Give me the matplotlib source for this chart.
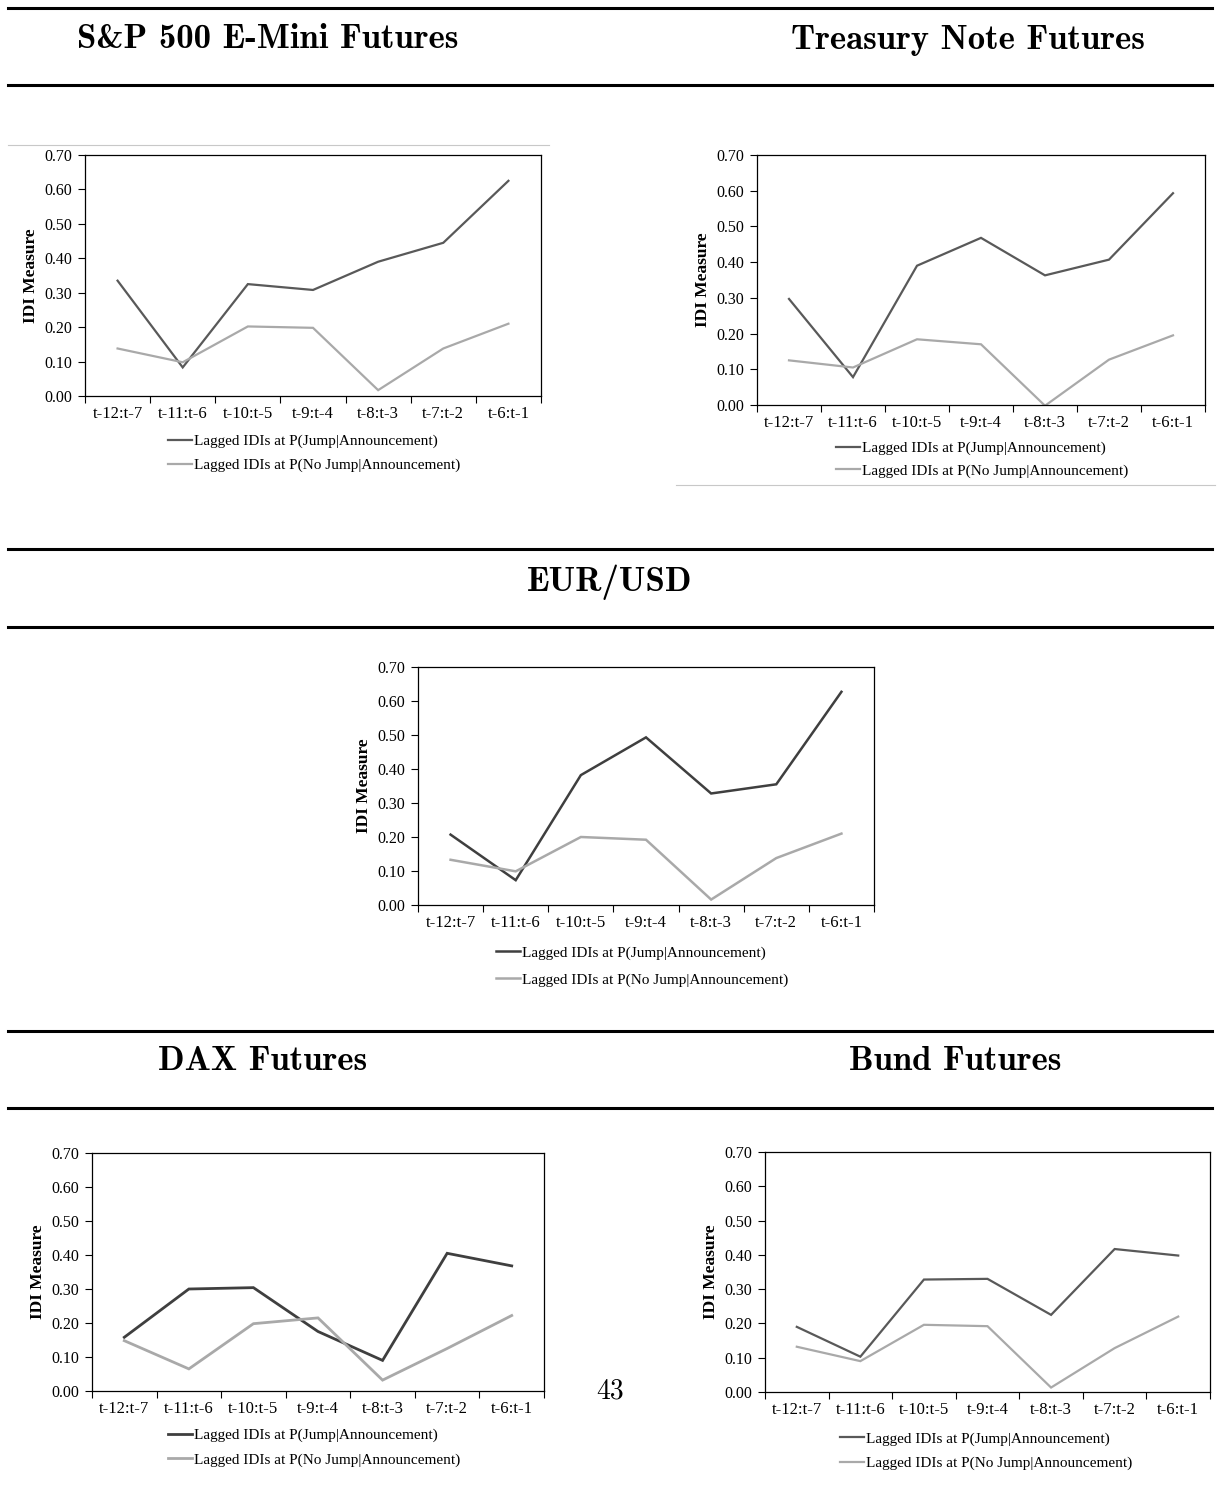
import matplotlib
matplotlib.use('AGG')
import matplotlib.pyplot as plt
from matplotlib.lines import Line2D

W, H = 1224, 1508

periods = ['t-12:t-7', 't-11:t-6', 't-10:t-5', 't-9:t-4', 't-8:t-3', 't-7:t-2', 't-6:t-1']

sp_jump = [0.335, 0.083, 0.325, 0.308, 0.390, 0.445, 0.625]
sp_nojump = [0.138, 0.098, 0.202, 0.198, 0.017, 0.138, 0.210]

tn_jump = [0.297, 0.078, 0.390, 0.468, 0.363, 0.407, 0.593]
tn_nojump = [0.125, 0.105, 0.184, 0.170, -0.002, 0.127, 0.195]

eur_jump = [0.207, 0.073, 0.382, 0.493, 0.328, 0.355, 0.627]
eur_nojump = [0.133, 0.099, 0.200, 0.192, 0.016, 0.138, 0.210]

dax_jump = [0.158, 0.300, 0.304, 0.175, 0.090, 0.405, 0.368]
dax_nojump = [0.148, 0.065, 0.198, 0.215, 0.032, 0.125, 0.222]

bund_jump = [0.190, 0.103, 0.328, 0.330, 0.225, 0.417, 0.398]
bund_nojump = [0.132, 0.090, 0.196, 0.192, 0.013, 0.128, 0.220]

lbl_jump = 'Lagged IDIs at P(Jump|Announcement)'
lbl_nojump = 'Lagged IDIs at P(No Jump|Announcement)'

serif = ['Liberation Serif', 'DejaVu Serif']
plt.rcParams['font.family'] = serif
plt.rcParams['axes.unicode_minus'] = False

fig = plt.figure(figsize=(W / 100, H / 100), dpi=100)


def fx(px):
    return px / W


def fy(py):
    return 1 - py / H


def panel(box, jump, nojump, leg, dark='#595959', lw=1.6, gap=0.66):
    # box = (left, top, right, bottom) in pixels
    l, t, r, b = box
    ax = fig.add_axes([fx(l), fy(b), fx(r) - fx(l), fy(t) - fy(b)])
    xs = [i + 0.5 for i in range(len(periods))]
    ax.plot(xs, jump, color=dark, lw=lw, solid_joinstyle='miter')
    ax.plot(xs, nojump, color='#a9a9a9', lw=lw, solid_joinstyle='miter')
    ax.set_xlim(0, len(periods))
    ax.set_ylim(0, 0.7)
    ax.set_yticks([i / 10 for i in range(8)])
    ax.set_yticklabels(['%.2f' % (i / 10) for i in range(8)])
    ax.set_xticks(range(len(periods) + 1))
    ax.set_xticklabels([])
    ax.set_xticks(xs, minor=True)
    ax.set_xticklabels(periods, minor=True)
    ax.tick_params(axis='x', which='major', length=5, width=0.8, direction='out')
    ax.tick_params(axis='x', which='minor', length=0, pad=7, labelsize=12)
    ax.tick_params(axis='y', length=5, width=0.8, direction='out', labelsize=11.5, pad=4)
    for s in ax.spines.values():
        s.set_linewidth(0.9)
        s.set_color('black')
    ax.set_ylabel('IDI Measure', fontsize=12.5, fontweight='bold', labelpad=4)
    handles = [Line2D([], [], color=dark, lw=lw), Line2D([], [], color='#a9a9a9', lw=lw)]
    lx, ly = leg
    fig.legend(handles, [lbl_jump, lbl_nojump], loc='center left',
               bbox_to_anchor=(fx(lx), fy(ly)), frameon=False, fontsize=11,
               borderpad=0, borderaxespad=0, handlelength=1.55, handletextpad=0.12,
               labelspacing=gap)
    return ax


panel((85, 155, 541, 396), sp_jump, sp_nojump, (168, 453.5))
panel((757, 155, 1205, 405), tn_jump, tn_nojump, (836, 459.5), gap=0.56)
panel((418, 667, 874, 905), eur_jump, eur_nojump, (496, 966.5), dark='#3f3f3f', lw=1.8, gap=0.86)
panel((92, 1153, 544, 1391), dax_jump, dax_nojump, (168, 1447.5), dark='#3f3f3f', lw=2.0, gap=0.7)
panel((765, 1152, 1210, 1392), bund_jump, bund_nojump, (840, 1451), dark='#595959', gap=0.7)

# thick rules and section headers
for y in [8, 85, 549, 627, 1031, 1108]:
    fig.add_artist(Line2D([fx(8), fx(1212)], [fy(y), fy(y)], color='black', lw=2.2))
fig.add_artist(Line2D([fx(8), fx(549)], [fy(145), fy(145)], color='#c8c8c8', lw=0.8))
fig.add_artist(Line2D([fx(676), fx(1215)], [fy(485), fy(485)], color='#c8c8c8', lw=0.8))

head = dict(family='cmb10', fontsize=25, ha='center', va='center')
fig.text(fx(268), fy(40), 'S&P 500 E-Mini Futures', **head)
fig.text(fx(968), fy(40), 'Treasury Note Futures', **head)
fig.text(fx(610), fy(582), 'EUR/USD', **head)
fig.text(fx(263), fy(1062), 'DAX Futures', **head)
fig.text(fx(955), fy(1062), 'Bund Futures', **head)
fig.text(fx(610), fy(1391), '43', family='cmr10', fontsize=20, ha='center', va='center')

plt.savefig('out.png', dpi=100)
plt.close('all')
